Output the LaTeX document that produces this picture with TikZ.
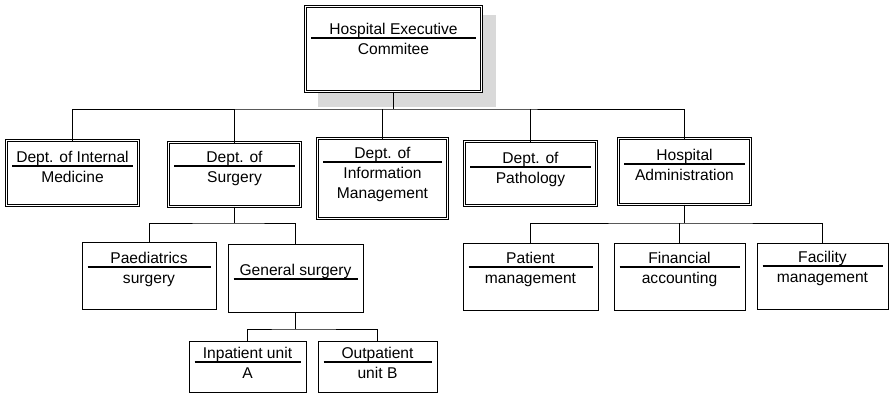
\documentclass[tikz,border=0pt]{standalone}
\usepackage{fontspec}
\setmainfont{Liberation Sans}
\usepackage{tikz}
\usetikzlibrary{calc,positioning,backgrounds}
\definecolor{shadowgray}{rgb}{.85,.85,.85}
\newcommand{\orgunit}[8]{%
  \node [#2,minimum width=#4,minimum height=#5] (#1) at (#3) {};
  \draw [sepline] ($(#1.north west)+(5.5,#6)$) -- ($(#1.north east)+(-5.5,#6)$);
  \node [toptext] (#1-a) at ($(#1.north)+(0,#6-3.5)$) {#7};
  \node [bottext] (#1-b) at ($(#1.north)+(0,#6+4.5)$) {\vphantom{d}#8};
}
\tikzset{
  dblbox/.style={draw,double,double distance=1.8pt,line width=0.9pt,fill=white,inner sep=0pt,outer sep=0pt},
  plainbox/.style={draw,line width=0.9pt,inner sep=0pt,outer sep=0pt},
  sepline/.style={line width=2pt},
  toptext/.style={anchor=base,inner sep=0pt,font=\fontsize{15.6}{20}\selectfont},
  bottext/.style={toptext,anchor=north,align=center},
  link/.style={line width=1pt},
  stem/.style={line width=1.8pt}
}
\begin{document}
\begin{tikzpicture}[x=1pt,y=-1pt]
  \useasboundingbox (0,0) rectangle (889,396);

  % executive level
  \orgunit{hec}{dblbox}{393.5,49}{176}{85}{31.5}{Hospital Executive}{Commitee}
  \begin{scope}[on background layer]
    \fill [shadowgray] ($(hec.north west)+(12,9)$) rectangle ($(hec.south east)+(14,15)$);
  \end{scope}

  % departments
  \orgunit{im}{dblbox}{72.5,173}{132}{65}{25.5}{Dept. of Internal}{Medicine}
  \orgunit{sur}{dblbox}{234.5,174.5}{132}{64}{23.5}{Dept. of}{Surgery}
  \orgunit{inf}{dblbox}{382.5,178.5}{130}{80}{23.5}{Dept. of}{Information\\Management}
  \orgunit{pat}{dblbox}{530.5,173.5}{132}{64}{25.5}{Dept. of}{Pathology}
  \orgunit{adm}{dblbox}{684.5,171.5}{132}{66}{25.5}{Hospital}{Administration}

  % sub units
  \orgunit{pae}{plainbox}{149,275.5}{134}{67}{25}{Paediatrics}{surgery}
  \orgunit{gen}{plainbox}{295.5,278}{135}{68}{35}{General surgery}{}
  \orgunit{ptm}{plainbox}{530.5,276.5}{135}{67}{24}{Patient}{management}
  \orgunit{fin}{plainbox}{679.5,276.5}{131}{67}{24}{Financial}{accounting}
  \orgunit{fac}{plainbox}{822.5,276}{131}{66}{23}{Facility}{management}

  \orgunit{inp}{plainbox}{247.5,366.5}{117}{51}{21}{Inpatient unit}{A}
  \orgunit{outp}{plainbox}{377.5,366.5}{119}{51}{21}{Outpatient}{unit B}

  % connectors
  \coordinate (bus1) at (393.5,109);
  \draw [stem] (hec.south) -- (bus1);
  \draw [link] (im.north) |- (bus1) -| (adm.north);
  \draw [stem] (sur.north) -- (sur.north |- bus1);
  \draw [stem] (inf.north) -- (inf.north |- bus1);
  \draw [stem] (pat.north) -- (pat.north |- bus1);

  \coordinate (bus2) at (234.5,223);
  \draw [stem] (sur.south) -- (bus2);
  \draw [link] (pae.north) |- (bus2) -| (gen.north);

  \coordinate (bus3) at (295.5,329);
  \draw [stem] (gen.south) -- (bus3);
  \draw [link] (inp.north) |- (bus3) -| (outp.north);

  \coordinate (bus4) at (684.5,223);
  \draw [stem] (adm.south) -- (bus4);
  \draw [link] (ptm.north) |- (bus4) -| (fac.north);
  \draw [stem] (fin.north) -- (fin.north |- bus4);
\end{tikzpicture}
\end{document}
